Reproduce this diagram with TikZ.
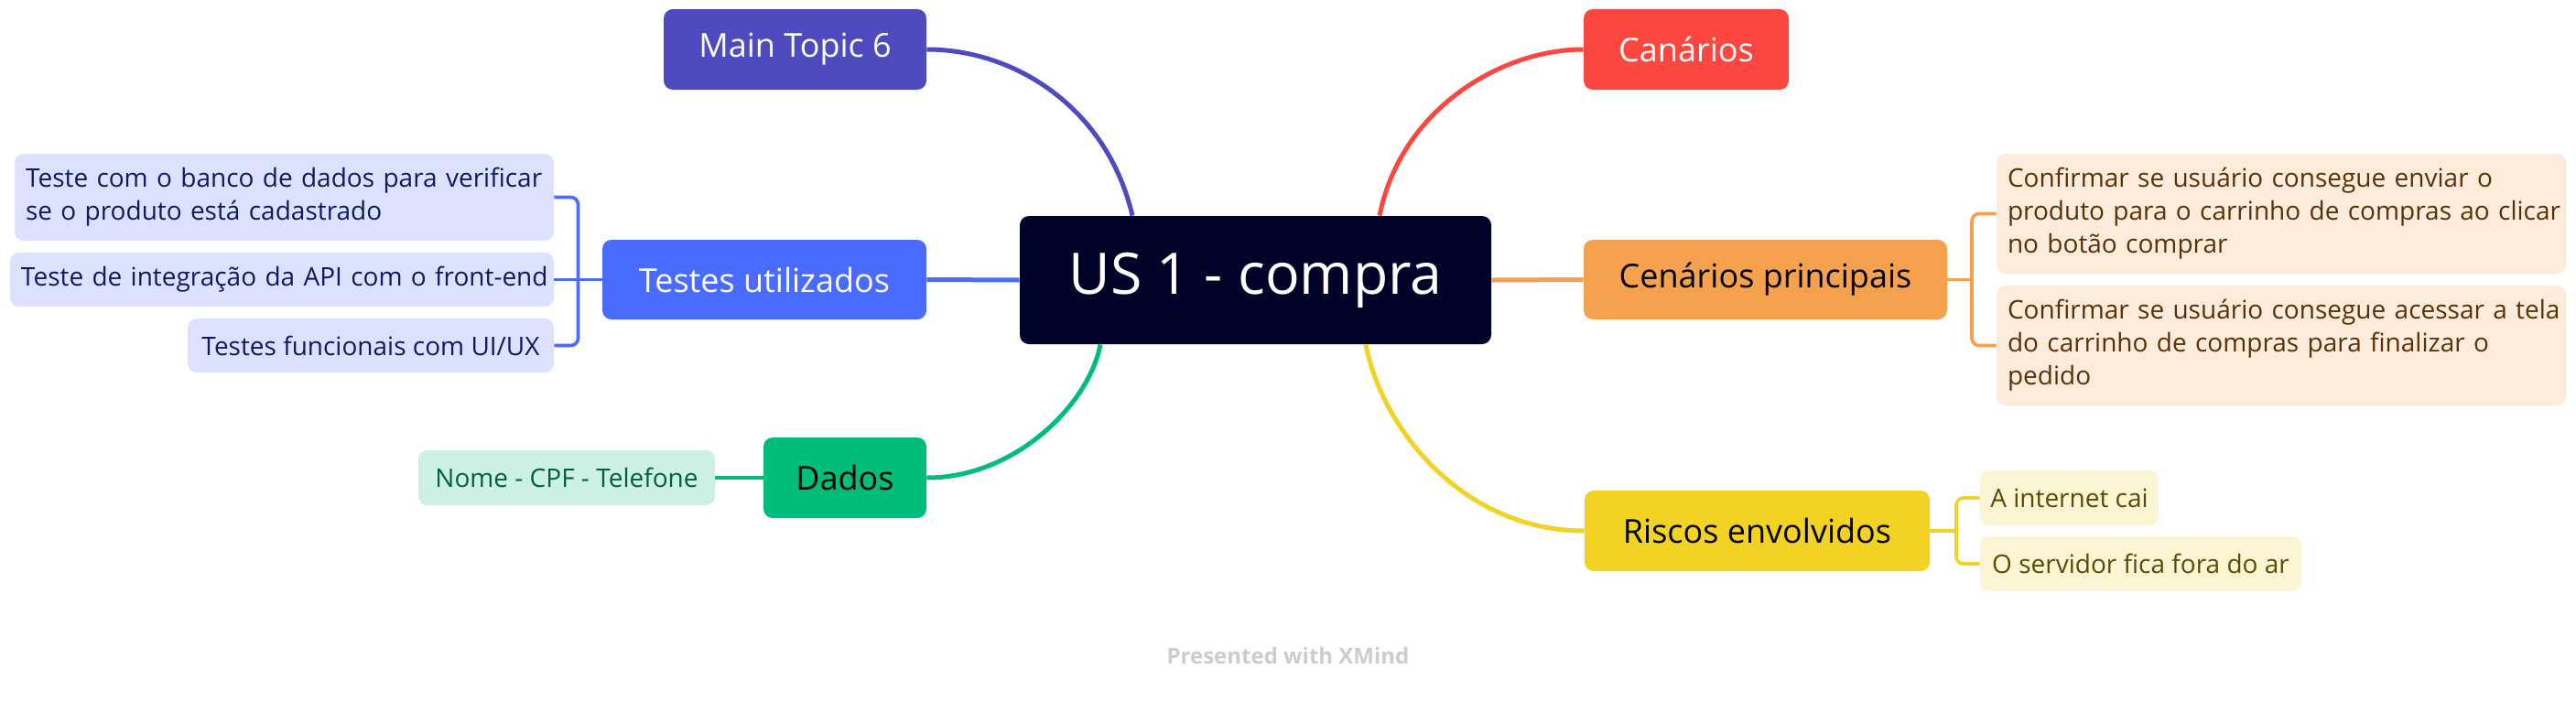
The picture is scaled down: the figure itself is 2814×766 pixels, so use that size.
\documentclass[tikz,border=0pt]{standalone}
\usepackage{fontspec}
\setmainfont{Open Sans}
\usetikzlibrary{calc}
\definecolor{cPurple}{RGB}{78,75,192}
\definecolor{cBlue}{RGB}{74,107,255}
\definecolor{cGreen}{RGB}{0,189,122}
\definecolor{cRed}{RGB}{252,70,64}
\definecolor{cOrange}{RGB}{245,161,78}
\definecolor{cYellow}{RGB}{242,211,35}
\definecolor{cRoot}{RGB}{0,2,40}
\definecolor{fBlue}{RGB}{220,226,253}
\definecolor{fGreen}{RGB}{204,240,227}
\definecolor{fOrange}{RGB}{253,235,219}
\definecolor{fYellow}{RGB}{252,245,211}
\definecolor{tBlue}{RGB}{14,26,102}
\definecolor{tGreen}{RGB}{0,96,64}
\definecolor{tOrange}{RGB}{90,48,7}
\definecolor{tYellow}{RGB}{92,74,3}
\definecolor{cWater}{RGB}{204,204,204}
\tikzset{
  boxbase/.style={rounded corners=5pt, inner sep=0pt, align=center},
  roottopic/.style={boxbase, fill=cRoot, text=white, font=\fontsize{31.3}{36}\selectfont},
  maintopic/.style={boxbase, font=\fontsize{18}{22}\selectfont},
  subtopic/.style={boxbase, font=\fontsize{14}{18}\selectfont},
  multitopic/.style={subtopic, align=left, inner xsep=6pt, text width=#1},
  mainline/.style={line width=2.5pt},
  subline/.style={line width=1.8pt, rounded corners=4pt}
}
\begin{document}
\begin{tikzpicture}[x=0.5pt,y=-0.5pt]
\useasboundingbox (0,0) rectangle (2814,766);

% root
\node[roottopic, minimum width=257.5pt, minimum height=70pt] (us) at (1371.5,306) {US 1 - compra};

% main topics
\node[maintopic, fill=cPurple, text=white, minimum width=143.5pt, minimum height=44pt] (mt6) at (868.5,54) {Main Topic 6};
\node[maintopic, fill=cBlue, text=white, minimum width=177pt, minimum height=43.5pt] (tu) at (835,305.5) {Testes utilizados};
\node[maintopic, fill=cGreen, text=black, minimum width=89pt, minimum height=44pt] (dados) at (923,522) {Dados};
\node[maintopic, fill=cRed, text=white, minimum width=112pt, minimum height=44pt] (can) at (1842,54) {Canários};
\node[maintopic, fill=cOrange, text=black, minimum width=198.5pt, minimum height=43.5pt] (cen) at (1928.5,305.5) {Cenários principais};
\node[maintopic, fill=cYellow, text=black, minimum width=188.5pt, minimum height=44pt] (ris) at (1919.5,580) {Riscos envolvidos};

% sub topics: Testes utilizados
\node[multitopic=282.5pt, fill=fBlue, text=tBlue, minimum height=47.5pt] (b1) at (310.5,215.5)
  {\mbox{Teste com o banco de dados para verificar}\\\mbox{se o produto está cadastrado}};
\node[multitopic=285pt, fill=fBlue, text=tBlue, minimum height=29.5pt] (b2) at (308,305.5)
  {\mbox{Teste de integração da API com o front-end}};
\node[subtopic, fill=fBlue, text=tBlue, minimum width=200pt, minimum height=29.5pt] (b3) at (405,377.5)
  {Testes funcionais com UI/UX};

% sub topic: Dados
\node[subtopic, fill=fGreen, text=tGreen, minimum width=162pt, minimum height=30pt] (nome) at (619,522)
  {Nome - CPF - Telefone};

% sub topics: Cenários principais
\node[multitopic=299pt, fill=fOrange, text=tOrange, minimum height=65.5pt] (c1) at (2492,233.5)
  {\mbox{Confirmar se usuário consegue enviar o}\\\mbox{produto para o carrinho de compras ao clicar}\\\mbox{no botão comprar}};
\node[multitopic=299pt, fill=fOrange, text=tOrange, minimum height=65.5pt] (c2) at (2492,377.5)
  {\mbox{Confirmar se usuário consegue acessar a tela}\\\mbox{do carrinho de compras para finalizar o}\\\mbox{pedido}};

% sub topics: Riscos envolvidos
\node[subtopic, fill=fYellow, text=tYellow, minimum width=97.5pt, minimum height=30pt] (r1) at (2260.5,544)
  {A internet cai};
\node[subtopic, fill=fYellow, text=tYellow, minimum width=175.5pt, minimum height=30pt] (r2) at (2338.5,616)
  {O servidor fica fora do ar};

% watermark
\node[font=\fontsize{12}{14}\selectfont\bfseries, text=cWater, inner sep=0pt] (wm) at (1407,716) {Presented with XMind};

% attachment points on root
\coordinate (pN) at ($(us.north)+(-134.5,0)$);
\coordinate (rN) at ($(us.north)+(135.5,0)$);
\coordinate (gS) at ($(us.south)+(-169.5,0)$);
\coordinate (yS) at ($(us.south)+(120.5,0)$);

% main connectors
\draw[mainline, cPurple] (mt6.east) .. controls ($(mt6.east)+(98,0)$) and ($(pN)+(-27,-116)$) .. (pN);
\draw[mainline, cRed] (rN) .. controls ($(rN)+(23,-116)$) and ($(can.west)+(-90,0)$) .. (can.west);
\draw[mainline, cGreen] (gS) .. controls ($(gS)+(-12,64)$) and ($(dados.east)+(98,0)$) .. (dados.east);
\draw[mainline, cYellow] (yS) .. controls ($(yS)+(18,94)$) and ($(ris.west)+(-131,0)$) .. (ris.west);
\draw[mainline, cBlue] (tu.east) -- (us.west);
\draw[mainline, cOrange] (us.east) -- (cen.west);

% sub connectors
\coordinate (tj) at (631.5,305.5);
\coordinate (cj) at (2154,305.5);
\coordinate (rj) at (2137,580);
\draw[subline, cBlue] (b1.east) -| (tj) |- (b3.east);
\draw[subline, cBlue] (tu.west) -- (b2.east);
\draw[subline, cGreen] (dados.west) -- (nome.east);
\draw[subline, cOrange] (c1.west) -| (cj) |- (c2.west);
\draw[subline, cOrange] (cen.east) -- (cj);
\draw[subline, cYellow] (r1.west) -| (rj) |- (r2.west);
\draw[subline, cYellow] (ris.east) -- (rj);
\end{tikzpicture}
\end{document}
